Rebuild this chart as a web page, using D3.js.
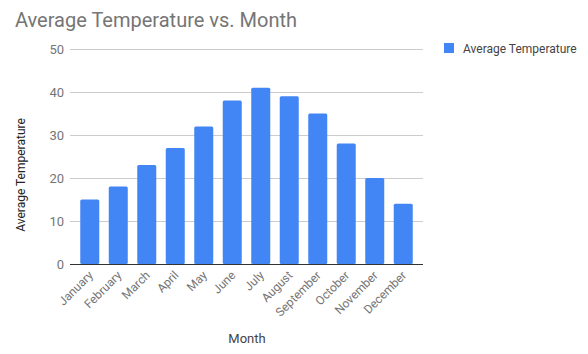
<!DOCTYPE html>
<html><head><meta charset="utf-8">
<script src="https://cdn.jsdelivr.net/npm/d3@7"></script>
<style>body{margin:0;background:#fff}svg{display:block;font-family:Roboto,Arial,sans-serif}</style>
</head><body><svg id="c" width="588" height="354"></svg>
<script>
const months = ["January","February","March","April","May","June","July","August","September","October","November","December"];
const temps = [15,18,23,27,32,38,41,39,35,28,20,14];
const yTicks = [0,10,20,30,40,50];
const seriesName = "Average Temperature";

const svg = d3.select("#c");
const x = d3.scaleBand().domain(months).range([70,423]).paddingInner(0.333).paddingOuter(0.36);
const y = d3.scaleLinear().domain([0,50]).range([264,49]);

svg.append("text").attr("x",15).attr("y",27).attr("font-size",20).attr("fill","#757575").text("Average Temperature vs. Month");

const g = svg.append("g");
g.selectAll("line.grid").data(yTicks.filter(d=>d>0)).enter().append("line")
  .attr("x1",70).attr("x2",423).attr("y1",d=>Math.round(y(d))+0.5).attr("y2",d=>Math.round(y(d))+0.5)
  .attr("stroke","#cccccc").attr("stroke-width",1);
g.selectAll("text.yt").data(yTicks).enter().append("text")
  .attr("x",64).attr("y",d=>y(d)+4.5).attr("text-anchor","end").attr("font-size",13).attr("fill","#757575").text(d=>d);

g.selectAll("rect").data(temps).enter().append("rect")
  .attr("x",(d,i)=>x(months[i])).attr("width",x.bandwidth())
  .attr("y",d=>y(d)).attr("height",d=>y(0)-y(d)).attr("rx",1.5).attr("fill","#4285f4");

g.append("line").attr("x1",70).attr("x2",423).attr("y1",264.5).attr("y2",264.5).attr("stroke","#333").attr("stroke-width",1);

g.selectAll("text.xt").data(months).enter().append("text")
  .attr("transform",d=>`translate(${x(d)+x.bandwidth()/2+4},${276}) rotate(-45)`)
  .attr("text-anchor","end").attr("font-size",12).attr("fill","#757575").text(d=>d);

svg.append("text").attr("x",247).attr("y",343).attr("text-anchor","middle").attr("font-size",13).attr("fill","#444").text("Month");
svg.append("text").attr("transform","translate(25,175) rotate(-90)").attr("text-anchor","middle").attr("font-size",12).attr("fill","#222").text(seriesName);

svg.append("rect").attr("x",444).attr("y",43).attr("width",10).attr("height",10).attr("fill","#4285f4");
svg.append("text").attr("x",463).attr("y",52.5).attr("font-size",12).attr("fill","#444").text(seriesName);
</script></body></html>
